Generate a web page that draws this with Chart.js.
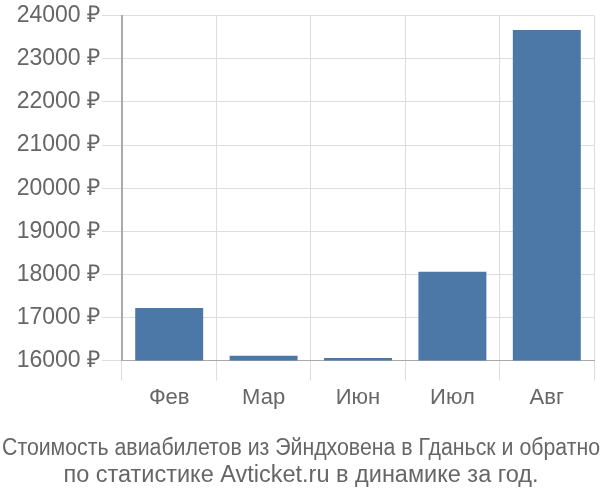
<!doctype html>
<html lang="ru">
<head>
<meta charset="utf-8" />
<title>Стоимость авиабилетов</title>
<script src="https://cdn.jsdelivr.net/npm/chart.js@4.4.4/dist/chart.umd.min.js"></script>
<style>
  html, body { margin: 0; padding: 0; background: #fff; }
  .wrap { width: 600px; height: 500px; }
</style>
</head>
<body>
<div class="wrap"><canvas id="chart"></canvas></div>
<script>
const months = ["Фев", "Мар", "Июн", "Июл", "Авг"];
const prices = [17220, 16110, 16060, 18060, 23670];
const titleLines = [
  "Стоимость авиабилетов из Эйндховена в Гданьск и обратно",
  "по статистике Avticket.ru в динамике за год.",
];

const FONT = "'Liberation Sans', Arial, sans-serif";
const GRID = "#dddddd";
const TEXT = "#666666";

new Chart(document.getElementById("chart"), {
  type: "bar",
  data: {
    labels: months,
    datasets: [{
      data: prices,
      backgroundColor: "#4c78a8",
      borderWidth: 0,
      barPercentage: 0.9,
      categoryPercentage: 0.8,
    }],
  },
  options: {
    responsive: true,
    maintainAspectRatio: false,
    animation: false,
    layout: { padding: { top: 4, right: 0, left: 2, bottom: 11 } },
    scales: {
      x: {
        grid: { color: GRID, tickLength: 20, offset: true },
        border: { color: "#aaaaaa" },
        ticks: { color: TEXT, font: { family: FONT, size: 22 }, padding: 4 },
      },
      y: {
        min: 16000,
        max: 24000,
        afterFit: (s) => { s.width = 120; },
        ticks: {
          stepSize: 1000,
          color: TEXT,
          font: { family: FONT, size: 23 },
          padding: 2,
          callback: (v) => v + " ₽",
        },
        grid: { color: GRID, tickLength: 20 },
        border: { color: "#aaaaaa", width: 2 },
      },
      // empty right axis, only keeps a small gap right of the plot
      yRight: {
        position: "right",
        afterFit: (s) => { s.width = 6; },
        grid: { display: false, drawTicks: false },
        border: { display: false },
        ticks: { display: false },
      },
    },
    plugins: {
      legend: { display: false },
      tooltip: { enabled: false },
      title: {
        display: true,
        position: "bottom",
        text: titleLines,
        color: TEXT,
        font: { family: FONT, size: 23.5, weight: "normal", lineHeight: 1.15 },
        padding: { top: 20, bottom: 0 },
      },
    },
  },
});
</script>
</body>
</html>
